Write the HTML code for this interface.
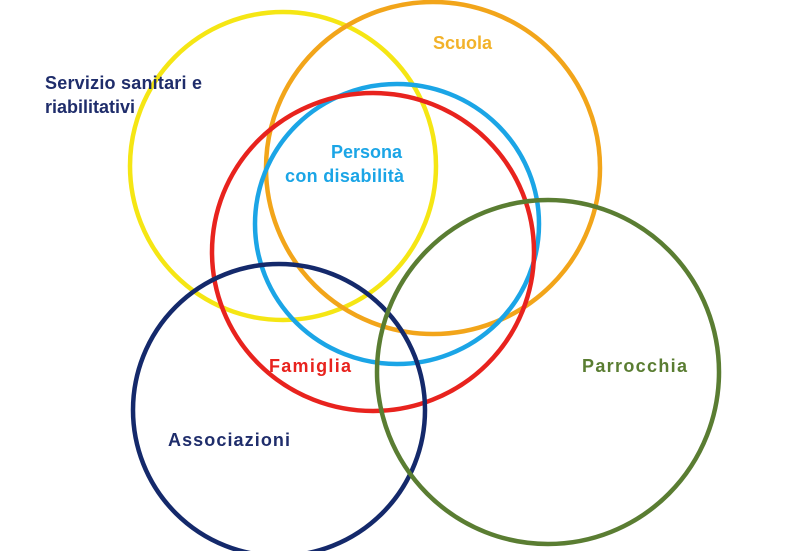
<!DOCTYPE html>
<html><head><style>
html,body{margin:0;padding:0;background:#fff;width:800px;height:551px;overflow:hidden}
svg text{font-family:"Liberation Sans",sans-serif;font-weight:bold;font-size:18px}
</style></head><body>
<svg width="800" height="551" viewBox="0 0 800 551" xmlns="http://www.w3.org/2000/svg">
<g fill="none" stroke-width="4.5">
<ellipse cx="283" cy="166" rx="153" ry="154" stroke="#f5e614"/>
<ellipse cx="433" cy="168" rx="167" ry="166" stroke="#f2a51a"/>
<ellipse cx="397" cy="224" rx="142" ry="140" stroke="#1ba5e6"/>
<ellipse cx="373" cy="252" rx="161" ry="159" stroke="#e8231e"/>
<ellipse cx="279" cy="410" rx="146" ry="146" stroke="#14296b"/>
<ellipse cx="548" cy="372" rx="171" ry="172" stroke="#5a7d32"/>
</g>
<text x="45" y="89" fill="#1f2d6b" textLength="157">Servizio sanitari e</text>
<text x="45" y="113" fill="#1f2d6b">riabilitativi</text>
<text x="433" y="49" fill="#f2b22a">Scuola</text>
<text x="331" y="158" fill="#1ba5e6">Persona</text>
<text x="285" y="182" fill="#1ba5e6" textLength="119">con disabilità</text>
<text x="269" y="372" fill="#e8231e" textLength="82">Famiglia</text>
<text x="582" y="372" fill="#5a7d32" textLength="105">Parrocchia</text>
<text x="168" y="446" fill="#1f2d6b" textLength="122">Associazioni</text>
</svg>
</body></html>
